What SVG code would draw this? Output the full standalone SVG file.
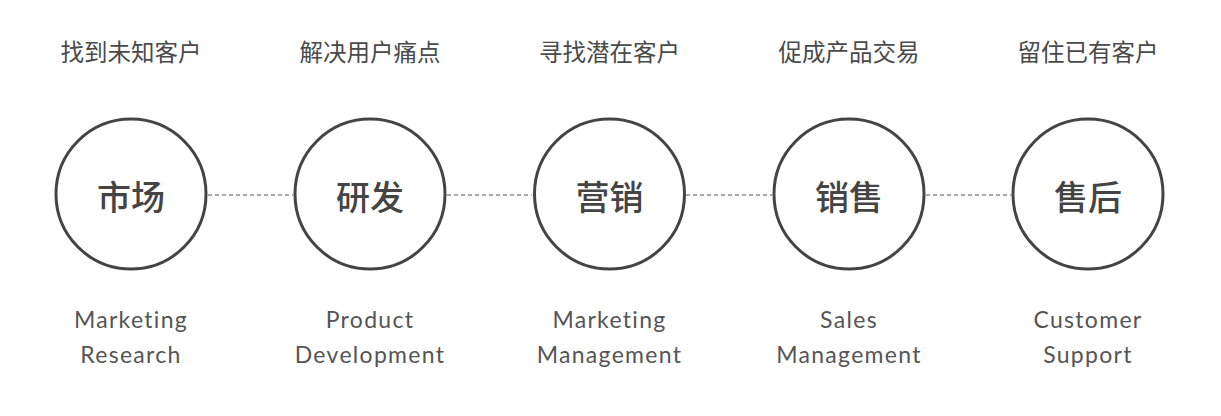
<svg xmlns="http://www.w3.org/2000/svg" width="1221" height="416" viewBox="0 0 1221 416">
<style>
.c{fill:#fff;stroke:#444;stroke-width:3}
.d{stroke:#aaa;stroke-width:2;stroke-dasharray:4 3;fill:none}
.t{font-family:"Noto Sans CJK SC",sans-serif;font-size:23.5px;font-weight:400;fill:#4a4a4a;text-anchor:middle;dominant-baseline:central}
.m{font-family:"Noto Sans CJK SC",sans-serif;font-size:34px;font-weight:500;fill:#444;text-anchor:middle;dominant-baseline:central}
.e{font-family:Lato,"Noto Sans",sans-serif;font-size:23px;font-weight:400;fill:#555;text-anchor:middle;letter-spacing:1.3px}
</style>
<rect width="1221" height="416" fill="#fff"/>
<g id="connectors">
<line class="d" x1="208" y1="195" x2="293" y2="195"/>
<line class="d" x1="447" y1="195" x2="532" y2="195"/>
<line class="d" x1="686" y1="195" x2="772" y2="195"/>
<line class="d" x1="926" y1="195" x2="1011" y2="195"/>
</g>
<g id="n1">
<text class="t" x="131" y="51">找到未知客户</text>
<circle class="c" cx="131" cy="194" r="75"/>
<text class="m" x="131" y="195">市场</text>
<text class="e" x="131" y="328">Marketing</text>
<text class="e" x="131" y="363">Research</text>
</g>
<g id="n2">
<text class="t" x="370" y="51">解决用户痛点</text>
<circle class="c" cx="370" cy="194" r="75"/>
<text class="m" x="370" y="195">研发</text>
<text class="e" x="370" y="328">Product</text>
<text class="e" x="370" y="363">Development</text>
</g>
<g id="n3">
<text class="t" x="609.5" y="51">寻找潜在客户</text>
<circle class="c" cx="609.5" cy="194" r="75"/>
<text class="m" x="609.5" y="195">营销</text>
<text class="e" x="609.5" y="328">Marketing</text>
<text class="e" x="609.5" y="363">Management</text>
</g>
<g id="n4">
<text class="t" x="849" y="51">促成产品交易</text>
<circle class="c" cx="849" cy="194" r="75"/>
<text class="m" x="849" y="195">销售</text>
<text class="e" x="849" y="328">Sales</text>
<text class="e" x="849" y="363">Management</text>
</g>
<g id="n5">
<text class="t" x="1088" y="51">留住已有客户</text>
<circle class="c" cx="1088" cy="194" r="75"/>
<text class="m" x="1088" y="195">售后</text>
<text class="e" x="1088" y="328">Customer</text>
<text class="e" x="1088" y="363">Support</text>
</g>
</svg>
